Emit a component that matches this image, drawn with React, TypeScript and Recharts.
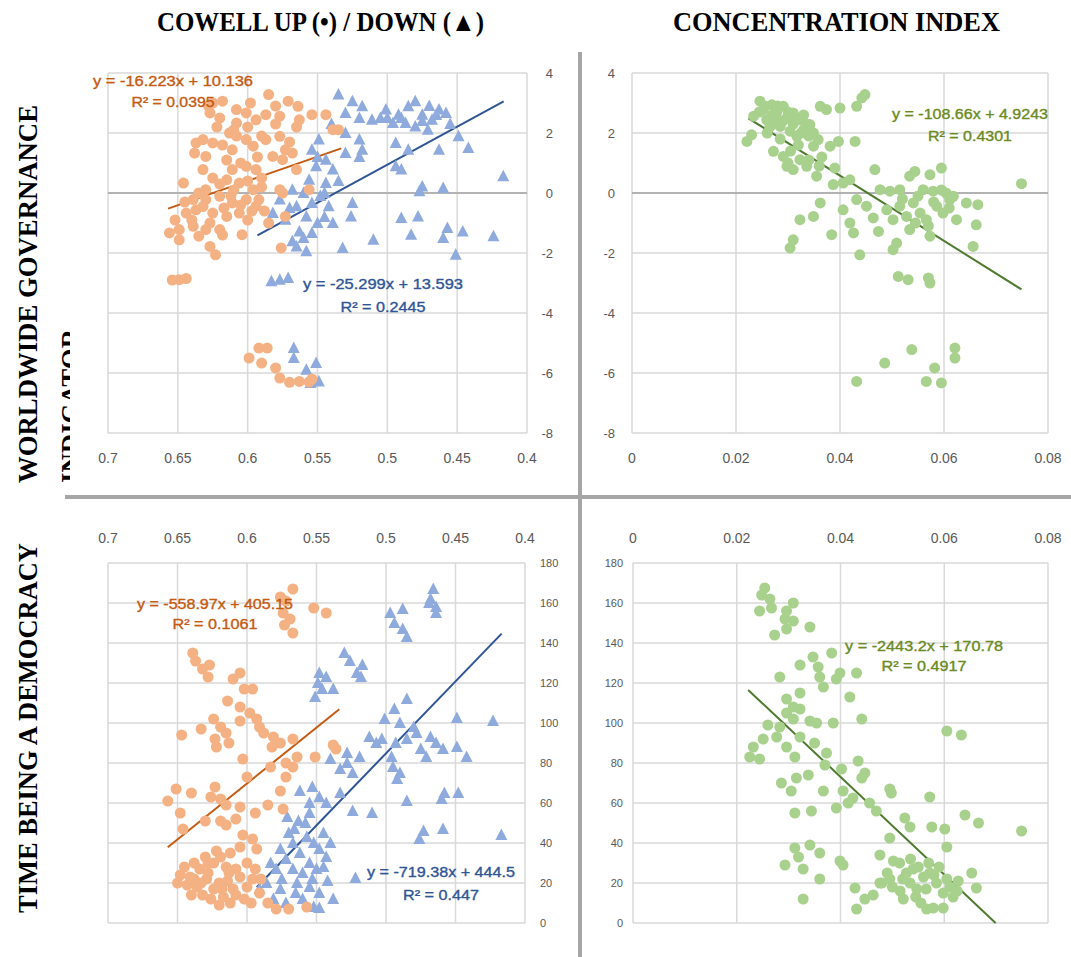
import React from 'react';
import { ScatterChart, Scatter, XAxis, YAxis, CartesianGrid, ReferenceLine } from 'recharts';

const W = 1071;
const H = 957;

// ---- tick values ----
const cowellTicks = [0.4, 0.45, 0.5, 0.55, 0.6, 0.65, 0.7];
const ciTicks = [0, 0.02, 0.04, 0.06, 0.08];
const wgiTicks = [-8, -6, -4, -2, 0, 2, 4];
const demTicks = [0, 20, 40, 60, 80, 100, 120, 140, 160, 180];

// ---- titles ----
const colTitles = ['COWELL UP (\u2022) / DOWN (\u25B2)', 'CONCENTRATION INDEX'];
const rowTitles = ['WORLDWIDE GOVERNANCE', 'INDICATOR', 'TIME BEING A DEMOCRACY'];

// ---- data: [x, y] ----
const cowellUpWgi = [
  [0.585, 3.28], [0.625, 3.0], [0.618, 3.06], [0.571, 3.06], [0.564, 2.89],
  [0.627, 2.67], [0.62, 2.5], [0.608, 2.78], [0.601, 2.67], [0.594, 2.44], [0.587, 2.61], [0.577, 2.56],
  [0.563, 2.44], [0.554, 2.61], [0.544, 2.61], [0.608, 2.33], [0.539, 2.11], [0.535, 2.11],
  [0.637, 1.67], [0.632, 1.78], [0.625, 1.67], [0.638, 1.33], [0.63, 1.22], [0.611, 1.44], [0.601, 1.78],
  [0.596, 1.56], [0.587, 1.78], [0.577, 1.89], [0.573, 1.44], [0.568, 1.33], [0.613, 2.0], [0.582, 1.22], [0.575, 1.11],
  [0.632, 0.78], [0.646, 0.33], [0.611, 0.78], [0.601, 0.89], [0.594, 0.78], [0.615, 0.44], [0.606, 0.33],
  [0.596, 0.11], [0.63, 0.11], [0.565, 0.78], [0.577, 0.11], [0.556, 0.11], [0.575, 0.0],
  [0.639, -0.22], [0.63, -0.22], [0.62, -0.11], [0.611, -0.33], [0.601, -0.22], [0.592, -0.22], [0.644, -0.67],
  [0.637, -0.56], [0.625, -0.67], [0.615, -0.78], [0.606, -0.67], [0.594, -0.44], [0.573, -0.78],
  [0.656, -1.33], [0.649, -1.22], [0.639, -1.11], [0.63, -1.22], [0.62, -1.22], [0.604, -1.39], [0.585, -1.0],
  [0.649, -1.56], [0.627, -1.78], [0.623, -2.06], [0.576, -1.83], [0.635, -1.44],
  [0.622, 2.2], [0.615, 1.1], [0.605, 1.0], [0.59, 0.5], [0.62, 0.3], [0.635, 0.0], [0.645, -0.3], [0.6, -0.9],
  [0.618, -1.4], [0.628, 2.9], [0.598, 3.0], [0.58, 2.9], [0.57, 1.7], [0.6, 0.4], [0.612, -0.1], [0.588, -0.6], [0.652, -0.9],
  [0.61, 2.1], [0.6, 2.2], [0.59, 1.9], [0.605, -0.4], [0.617, -0.5], [0.627, -1.0], [0.64, -0.9], [0.632, -0.45],
  [0.597, -0.6], [0.61, 0.1], [0.625, 0.5], [0.59, 0.2], [0.618, 1.6], [0.608, 1.9], [0.593, 1.2], [0.58, 2.3], [0.565, 2.2],
  [0.649, -2.89], [0.644, -2.85], [0.654, -2.9],
  [0.599, -5.5], [0.592, -5.17], [0.586, -5.17], [0.59, -5.67], [0.58, -5.83], [0.577, -6.17], [0.57, -6.31],
  [0.563, -6.28], [0.556, -6.3], [0.554, -6.2],
];

const cowellDownWgi = [
  [0.535, 3.28], [0.525, 3.06], [0.518, 2.89], [0.53, 2.67], [0.511, 2.44], [0.501, 2.78], [0.492, 2.61], [0.485, 2.89],
  [0.48, 3.06], [0.475, 2.61], [0.468, 2.44], [0.463, 2.78], [0.458, 2.67], [0.496, 2.33], [0.487, 2.33], [0.471, 2.11], [0.48, 2.22],
  [0.505, 2.5], [0.47, 2.9], [0.455, 2.3], [0.54, 2.3], [0.53, 2.0],
  [0.5, 2.5], [0.49, 2.5], [0.475, 2.4], [0.465, 2.6], [0.52, 2.5],
  [0.549, 1.78], [0.554, 1.44], [0.544, 1.11], [0.53, 1.33], [0.52, 1.78], [0.518, 1.44], [0.494, 1.67], [0.485, 1.44],
  [0.463, 1.44], [0.449, 1.89], [0.442, 1.5], [0.494, 0.89], [0.49, 0.78], [0.539, 0.78], [0.551, 0.89],
  [0.55, 1.2], [0.52, 1.2],
  [0.417, 0.56], [0.475, 0.22], [0.46, 0.17], [0.477, 0.06], [0.568, 0.11], [0.556, 0.44], [0.544, 0.33], [0.56, 0.0],
  [0.548, -0.1], [0.535, 0.4], [0.545, 0.0],
  [0.577, -0.22], [0.565, -0.44], [0.554, -0.33], [0.542, -0.44], [0.525, -0.33], [0.526, -0.78], [0.582, -0.67],
  [0.573, -0.89], [0.558, -0.78], [0.539, -1.0], [0.49, -0.83], [0.478, -0.78],
  [0.545, -0.8], [0.55, -1.0], [0.57, -0.5],
  [0.563, -1.28], [0.554, -1.33], [0.51, -1.56], [0.483, -1.39], [0.457, -1.17], [0.46, -1.5], [0.446, -1.28], [0.424, -1.44],
  [0.565, -1.78], [0.558, -1.94], [0.532, -1.83], [0.451, -2.06], [0.568, -1.61], [0.56, -1.5],
  [0.583, -2.94], [0.577, -2.89], [0.571, -2.83],
  [0.567, -5.17], [0.567, -5.5], [0.551, -5.67], [0.558, -5.89], [0.549, -6.28], [0.555, -6.33],
];

const ciWgi = [
  [0.0221, 1.72], [0.023, 1.94], [0.0234, 2.56], [0.0246, 3.06], [0.0253, 2.78], [0.0259, 2.44], [0.0269, 2.94],
  [0.0278, 2.67], [0.0291, 2.89], [0.0298, 2.5], [0.0285, 2.22], [0.031, 2.67], [0.0323, 2.44], [0.033, 2.11],
  [0.0342, 2.28], [0.0349, 2.0], [0.0317, 1.89], [0.0304, 2.06], [0.0272, 1.39], [0.0291, 1.22], [0.0298, 0.89],
  [0.031, 0.78], [0.0323, 1.11], [0.0336, 0.89], [0.0355, 0.56], [0.0349, 1.56], [0.0358, 1.78], [0.0362, 2.89],
  [0.0374, 2.78], [0.04, 2.83], [0.0381, 1.56], [0.0397, 1.72], [0.0429, 1.72], [0.0432, 2.89], [0.0442, 3.17],
  [0.0448, 3.28], [0.039, 0.83], [0.0387, 0.28], [0.0406, 0.33], [0.0419, 0.44], [0.0467, 0.78],
  [0.027, 2.6], [0.031, 2.3], [0.033, 2.6], [0.0245, 2.7], [0.029, 2.4], [0.0265, 2.2], [0.034, 1.9], [0.032, 1.6],
  [0.0365, 1.2], [0.03, 1.0],
  [0.0255, 2.9], [0.028, 2.9], [0.03, 2.7], [0.0275, 2.4], [0.0315, 2.5], [0.0335, 2.3], [0.0325, 2.0], [0.0285, 1.8],
  [0.026, 2.0], [0.0305, 1.4], [0.034, 1.1], [0.036, 0.9],
  [0.0477, 0.11], [0.0496, 0.06], [0.0515, 0.11], [0.0534, 0.56], [0.0544, 0.72], [0.0573, 0.61], [0.0595, 0.83],
  [0.056, 0.11], [0.0579, 0.06], [0.0604, 0.0], [0.0618, -0.11], [0.0643, -0.33], [0.0665, -0.39], [0.0749, 0.31],
  [0.052, -0.2], [0.055, -0.1], [0.058, -0.3], [0.061, -0.5], [0.057, -1.1], [0.0545, -1.0], [0.0595, 0.1],
  [0.0362, -0.33], [0.0349, -0.78], [0.0323, -0.89], [0.031, -1.56], [0.0304, -1.83], [0.0384, -1.39], [0.0406, -0.56],
  [0.0419, -1.0], [0.0426, -1.33], [0.0432, -0.22], [0.0451, -0.44], [0.0464, -0.83], [0.0474, -1.28], [0.049, -0.56],
  [0.0502, -0.89], [0.0515, -0.44], [0.0528, -0.78], [0.0541, -0.33], [0.0554, -0.67], [0.0534, -1.22], [0.0566, -0.89],
  [0.0586, -0.44], [0.0598, -0.67], [0.0611, -0.22], [0.0624, -0.89], [0.0573, -1.44], [0.0662, -1.06], [0.0656, -1.78],
  [0.0502, -1.89], [0.0509, -1.67], [0.0438, -2.06],
  [0.0512, -2.78], [0.0531, -2.89], [0.057, -2.83], [0.0573, -3.0],
  [0.0486, -5.67], [0.0538, -5.22], [0.0621, -5.17], [0.0621, -5.5], [0.0582, -5.83], [0.0566, -6.28], [0.0595, -6.33], [0.0432, -6.28],
];

const cowellUpDem = [
  [0.576, 163], [0.567, 167], [0.572, 161], [0.574, 155], [0.569, 152], [0.573, 149], [0.567, 145], [0.552, 157.5], [0.543, 155],
  [0.639, 135], [0.637, 131], [0.627, 129], [0.632, 127], [0.628, 123],
  [0.605, 125], [0.61, 122], [0.596, 117], [0.602, 117], [0.614, 111], [0.605, 108], [0.598, 105], [0.593, 102], [0.605, 101], [0.591, 98],
  [0.647, 94], [0.633, 97], [0.624, 102], [0.619, 98], [0.623, 92], [0.622, 88], [0.613, 90], [0.615, 95],
  [0.588, 95], [0.581, 93], [0.582, 88], [0.576, 90], [0.567, 92], [0.564, 83], [0.551, 83], [0.538, 89], [0.536, 87],
  [0.572, 80], [0.567, 78], [0.583, 78], [0.603, 82], [0.6, 73], [0.572, 73], [0.576, 66], [0.574, 57],
  [0.657, 61], [0.651, 67], [0.64, 65], [0.648, 55], [0.623, 68], [0.626, 63], [0.619, 62], [0.615, 59], [0.605, 58],
  [0.608, 52], [0.615, 49], [0.619, 51], [0.63, 51], [0.646, 47], [0.594, 55], [0.585, 59], [0.596, 42], [0.593, 37],
  [0.603, 44], [0.605, 38],
  [0.648, 24], [0.641, 23], [0.634, 27], [0.629, 22], [0.624, 30], [0.619, 33], [0.615, 28], [0.624, 17], [0.617, 13],
  [0.61, 17], [0.605, 23], [0.6, 18], [0.596, 22], [0.636, 18], [0.643, 19], [0.612, 10], [0.591, 15], [0.579, 7],
  [0.57, 7], [0.557, 8], [0.585, 10], [0.628, 25], [0.62, 20], [0.632, 14], [0.608, 27], [0.614, 21],
  [0.645, 28], [0.638, 30], [0.63, 33], [0.622, 36], [0.612, 35], [0.6, 30], [0.594, 27], [0.602, 12], [0.608, 14],
  [0.62, 9], [0.626, 12], [0.638, 22], [0.65, 20], [0.633, 20], [0.613, 25], [0.59, 22], [0.597, 10], [0.618, 17],
  [0.628, 30], [0.64, 14],
];

const cowellDownDem = [
  [0.466, 167], [0.468, 162], [0.464, 158], [0.469, 160], [0.464, 155], [0.497, 155], [0.488, 157], [0.494, 150],
  [0.488, 147], [0.485, 143], [0.53, 135], [0.526, 131], [0.517, 129], [0.521, 125], [0.518, 123], [0.548, 125],
  [0.543, 123], [0.549, 120], [0.546, 117], [0.538, 117], [0.551, 113],
  [0.485, 112], [0.494, 107], [0.501, 102], [0.49, 100], [0.48, 98], [0.478, 95], [0.449, 102.5], [0.423, 101],
  [0.512, 93], [0.507, 90], [0.503, 92], [0.493, 90], [0.485, 92], [0.475, 87], [0.468, 93], [0.464, 90], [0.459, 87],
  [0.471, 83], [0.449, 88], [0.442, 83], [0.496, 83], [0.495, 78],
  [0.54, 82], [0.528, 85], [0.519, 83], [0.533, 77], [0.524, 75], [0.528, 80], [0.492, 72], [0.49, 75],
  [0.562, 66], [0.553, 68], [0.548, 63], [0.543, 60], [0.533, 65], [0.555, 60], [0.524, 56], [0.51, 55], [0.485, 61],
  [0.458, 65], [0.448, 65], [0.46, 62], [0.571, 53], [0.563, 51], [0.555, 55], [0.566, 47], [0.473, 46], [0.476, 42],
  [0.459, 47], [0.417, 44],
  [0.576, 37], [0.567, 40], [0.557, 43], [0.552, 40], [0.548, 37], [0.543, 33], [0.562, 35], [0.572, 32], [0.555, 30],
  [0.579, 27], [0.567, 27], [0.55, 27], [0.542, 21], [0.522, 22.5], [0.586, 20], [0.576, 17], [0.564, 20], [0.555, 18],
  [0.548, 15], [0.581, 12], [0.572, 10], [0.56, 12], [0.552, 8], [0.548, 7.5], [0.591, 17],
  [0.57, 45], [0.56, 25], [0.565, 15], [0.545, 28], [0.538, 12], [0.575, 22], [0.583, 30], [0.553, 22], [0.545, 45],
  [0.558, 50], [0.54, 40],
];

const ciDem = [
  [0.0254, 167.5], [0.0248, 164], [0.0264, 162], [0.0267, 157.5], [0.0244, 156], [0.0309, 160], [0.0296, 156],
  [0.0293, 152], [0.0309, 151], [0.0296, 147], [0.0273, 144], [0.0341, 148], [0.0347, 133], [0.0357, 128],
  [0.036, 123], [0.0367, 118], [0.0383, 135], [0.0399, 125], [0.0392, 122], [0.0431, 125], [0.0418, 113],
  [0.0441, 102], [0.0322, 129], [0.0283, 123], [0.0322, 115], [0.0296, 112], [0.0309, 108], [0.0322, 107],
  [0.0296, 105], [0.026, 99], [0.0283, 98], [0.0309, 102], [0.0341, 101], [0.0354, 100], [0.0386, 100],
  [0.0232, 88], [0.0225, 83], [0.0244, 82], [0.0251, 92], [0.0277, 93], [0.0296, 88], [0.0312, 83], [0.0322, 93],
  [0.035, 90], [0.0373, 85], [0.037, 79], [0.0402, 77], [0.0434, 81], [0.0447, 75], [0.0441, 72.5],
  [0.0286, 70], [0.0315, 72.5], [0.0338, 74], [0.0305, 66], [0.0367, 66], [0.0405, 66], [0.0415, 60], [0.0392, 57.5],
  [0.0424, 62.5], [0.0456, 60], [0.0495, 67], [0.0498, 65], [0.0469, 56], [0.0312, 55], [0.0344, 56],
  [0.0495, 42.5], [0.0524, 52.5], [0.0534, 48], [0.0572, 63], [0.0576, 48], [0.0601, 47], [0.0605, 38], [0.064, 54],
  [0.0666, 50], [0.0749, 46], [0.0605, 96], [0.0633, 94],
  [0.0312, 37.5], [0.0319, 33], [0.0341, 39], [0.036, 35], [0.0293, 29], [0.0328, 27], [0.036, 22], [0.0328, 12],
  [0.0399, 31], [0.0405, 29], [0.0428, 17.5], [0.0431, 7], [0.0447, 12], [0.0463, 14], [0.0476, 34], [0.0476, 20],
  [0.0495, 22], [0.0514, 30], [0.0502, 31], [0.0521, 12], [0.0527, 25], [0.0534, 20], [0.0547, 17], [0.056, 23],
  [0.0566, 7], [0.0579, 7.5], [0.0585, 20], [0.0598, 15], [0.0598, 7.5], [0.0611, 18], [0.0627, 21], [0.0617, 13],
  [0.0653, 25], [0.0662, 17.5], [0.0572, 25], [0.054, 27],
  [0.049, 25], [0.05, 18], [0.052, 22], [0.055, 28], [0.058, 24], [0.0545, 13], [0.0565, 17], [0.059, 28],
  [0.0605, 22], [0.0625, 16], [0.0515, 16], [0.048, 20], [0.0535, 32], [0.057, 30], [0.0555, 10],
];

// ---- trendlines (from the printed equations) ----
const trendUpWgi = { slope: -16.223, intercept: 10.136, r2: '0.0395', from: 0.657, to: 0.533 };
const trendDownWgi = { slope: -25.299, intercept: 13.593, r2: '0.2445', from: 0.593, to: 0.4167 };
const trendCiWgi = { slope: -108.66, intercept: 4.9243, r2: '0.4301', from: 0.0224, to: 0.0749 };
const trendUpDem = { slope: -558.97, intercept: 405.15, r2: '0.1061', from: 0.657, to: 0.5336 };
const trendDownDem = { slope: -719.38, intercept: 444.5, r2: '0.447', from: 0.593, to: 0.4168 };
const trendCiDem = { slope: -2443.2, intercept: 170.78, r2: '0.4917', from: 0.0222, to: 0.0699 };

// ---- colours ----
const ORANGE = '#f4b183';
const BLUE = '#8faadc';
const GREEN = '#a9d18e';
const ORANGE_LINE = '#c55a11';
const BLUE_LINE = '#2f5597';
const GREEN_LINE = '#4e7a2e';
const ORANGE_TXT = '#c55a11';
const BLUE_TXT = '#2f5597';
const GREEN_TXT = '#6b8a22';
const TICK = '#595959';
const FONT = '"Liberation Sans", Arial, sans-serif';
const SERIF = '"Liberation Serif", "Times New Roman", serif';
const AX = 30; // axis band size

const toPts = (arr: number[][]) => arr.map(([x, y]) => ({ x, y }));
const seg = (t: any) => [
  { x: t.from, y: t.slope * t.from + t.intercept },
  { x: t.to, y: t.slope * t.to + t.intercept },
];
const eqText = (t: any) => `y = ${t.slope}x + ${t.intercept}`;
const fmt = (v: number) => String(Number(Number(v).toFixed(3)));

const circleShape = (color: string) => (p: any) => <circle cx={p.cx} cy={p.cy} r={5.5} fill={color} />;
const triShape = (p: any) => (
  <polygon
    points={`${p.cx},${p.cy - 6.5} ${p.cx + 6},${p.cy + 5} ${p.cx - 6},${p.cy + 5}`}
    fill={BLUE}
  />
);

type PanelProps = {
  plot: { left: number; right: number; top: number; bottom: number };
  xDomain: number[];
  xTicks: number[];
  xSide: 'top' | 'bottom';
  reversed?: boolean;
  yDomain: number[];
  yTicks: number[];
  ySide: 'left' | 'right';
  xLabelY: number;
  xFont: number;
  yLabelX: number;
  yAnchor: 'start' | 'end';
  yFont: number;
  series: { data: number[][]; shape: any }[];
  trends: { t: any; color: string }[];
  zeroLine?: boolean;
};

function Panel(props: PanelProps) {
  const { plot } = props;
  const margin = {
    top: plot.top - (props.xSide === 'top' ? AX : 0),
    bottom: H - plot.bottom - (props.xSide === 'bottom' ? AX : 0),
    left: plot.left - (props.ySide === 'left' ? AX : 0),
    right: W - plot.right - (props.ySide === 'right' ? AX : 0),
  };
  const xTick = (p: any) => (
    <text x={p.x} y={props.xLabelY} textAnchor="middle" fontSize={props.xFont} fill={TICK} fontFamily={FONT}>
      {fmt(p.payload.value)}
    </text>
  );
  const yTick = (p: any) => (
    <text x={props.yLabelX} y={p.y + props.yFont * 0.36} textAnchor={props.yAnchor} fontSize={props.yFont} fill={TICK} fontFamily={FONT}>
      {fmt(p.payload.value)}
    </text>
  );
  return (
    <div style={{ position: 'absolute', left: 0, top: 0 }}>
      <ScatterChart width={W} height={H} margin={margin}>
        <CartesianGrid stroke="#d9d9d9" strokeWidth={1.5} />
        <XAxis
          type="number"
          dataKey="x"
          orientation={props.xSide}
          domain={props.xDomain}
          ticks={props.xTicks}
          reversed={props.reversed}
          interval={0}
          height={AX}
          axisLine={false}
          tickLine={false}
          tick={xTick}
          allowDataOverflow
        />
        <YAxis
          type="number"
          dataKey="y"
          orientation={props.ySide}
          domain={props.yDomain}
          ticks={props.yTicks}
          interval={0}
          width={AX}
          axisLine={false}
          tickLine={false}
          tick={yTick}
          allowDataOverflow
        />
        {props.zeroLine && <ReferenceLine y={0} stroke="#b3b3b3" strokeWidth={2} />}
        {props.series.map((s, i) => (
          <Scatter key={i} data={toPts(s.data)} shape={s.shape} isAnimationActive={false} />
        ))}
        {props.trends.map((tr, i) => (
          <ReferenceLine key={'t' + i} segment={seg(tr.t)} stroke={tr.color} strokeWidth={2} ifOverflow="visible" />
        ))}
      </ScatterChart>
    </div>
  );
}

function Eq({ t, cx, y1, y2, w1, w2, color }: any) {
  return (
    <g fontFamily={FONT} fontSize={14} fill={color} stroke={color} strokeWidth={0.35}>
      <text x={cx} y={y1} textAnchor="middle" textLength={w1} lengthAdjust="spacingAndGlyphs">{eqText(t)}</text>
      <text x={cx} y={y2} textAnchor="middle" textLength={w2} lengthAdjust="spacingAndGlyphs">{`R\u00B2 = ${t.r2}`}</text>
    </g>
  );
}

export default function App() {
  return (
    <div style={{ position: 'absolute', left: 0, top: 0, width: W, height: H, background: '#fff', overflow: 'hidden' }}>
      <Panel
        plot={{ left: 108, right: 527, top: 73, bottom: 433 }}
        xDomain={[0.4, 0.7]}
        xTicks={cowellTicks}
        xSide="bottom"
        reversed
        yDomain={[-8, 4]}
        yTicks={wgiTicks}
        ySide="right"
        xLabelY={463}
        xFont={14}
        yLabelX={553}
        yAnchor="end"
        yFont={13}
        zeroLine
        series={[
          { data: cowellDownWgi, shape: triShape },
          { data: cowellUpWgi, shape: circleShape(ORANGE) },
        ]}
        trends={[
          { t: trendUpWgi, color: ORANGE_LINE },
          { t: trendDownWgi, color: BLUE_LINE },
        ]}
      />
      <Panel
        plot={{ left: 632, right: 1048, top: 73, bottom: 433 }}
        xDomain={[0, 0.08]}
        xTicks={ciTicks}
        xSide="bottom"
        yDomain={[-8, 4]}
        yTicks={wgiTicks}
        ySide="left"
        xLabelY={463}
        xFont={14}
        yLabelX={615}
        yAnchor="end"
        yFont={13}
        zeroLine
        series={[{ data: ciWgi, shape: circleShape(GREEN) }]}
        trends={[{ t: trendCiWgi, color: GREEN_LINE }]}
      />
      <Panel
        plot={{ left: 108, right: 525, top: 563, bottom: 923 }}
        xDomain={[0.4, 0.7]}
        xTicks={cowellTicks}
        xSide="top"
        reversed
        yDomain={[0, 180]}
        yTicks={demTicks}
        ySide="right"
        xLabelY={543}
        xFont={14}
        yLabelX={540}
        yAnchor="start"
        yFont={11}
        series={[
          { data: cowellDownDem, shape: triShape },
          { data: cowellUpDem, shape: circleShape(ORANGE) },
        ]}
        trends={[
          { t: trendUpDem, color: ORANGE_LINE },
          { t: trendDownDem, color: BLUE_LINE },
        ]}
      />
      <Panel
        plot={{ left: 633, right: 1048, top: 563, bottom: 923 }}
        xDomain={[0, 0.08]}
        xTicks={ciTicks}
        xSide="top"
        yDomain={[0, 180]}
        yTicks={demTicks}
        ySide="left"
        xLabelY={543}
        xFont={14}
        yLabelX={623}
        yAnchor="end"
        yFont={11}
        series={[{ data: ciDem, shape: circleShape(GREEN) }]}
        trends={[{ t: trendCiDem, color: GREEN_LINE }]}
      />
      <svg width={W} height={H} style={{ position: 'absolute', left: 0, top: 0, pointerEvents: 'none' }}>
        <defs>
          <clipPath id="indClip">
            <rect x={0} y={0} width={70} height={H} />
          </clipPath>
        </defs>
        <rect x={578} y={52} width={4} height={H - 52} fill="#a6a6a6" />
        <rect x={65} y={495} width={W - 65} height={4} fill="#a6a6a6" />
        <g fontFamily={SERIF} fontWeight="bold" fontSize={27} fill="#000">
          <text x={320.5} y={31} textAnchor="middle" textLength={327} lengthAdjust="spacingAndGlyphs">{colTitles[0]}</text>
          <text x={836.5} y={31} textAnchor="middle" textLength={327} lengthAdjust="spacingAndGlyphs">{colTitles[1]}</text>
          <text transform="translate(37,483) rotate(-90)" textLength={378} lengthAdjust="spacingAndGlyphs">{rowTitles[0]}</text>
          <g clipPath="url(#indClip)">
            <text transform="translate(80,483) rotate(-90)" textLength={154} lengthAdjust="spacingAndGlyphs">{rowTitles[1]}</text>
          </g>
          <text transform="translate(37,913) rotate(-90)" textLength={370} lengthAdjust="spacingAndGlyphs">{rowTitles[2]}</text>
        </g>
        <Eq t={trendUpWgi} cx={173} y1={86} y2={107} w1={160} w2={83} color={ORANGE_TXT} />
        <Eq t={trendDownWgi} cx={383} y1={289} y2={312} w1={160} w2={85} color={BLUE_TXT} />
        <Eq t={trendCiWgi} cx={970} y1={119} y2={141} w1={156} w2={84} color={GREEN_TXT} />
        <Eq t={trendUpDem} cx={215} y1={609} y2={629} w1={156} w2={85} color={ORANGE_TXT} />
        <Eq t={trendDownDem} cx={441} y1={877} y2={900} w1={148} w2={76} color={BLUE_TXT} />
        <Eq t={trendCiDem} cx={924} y1={651} y2={671} w1={158} w2={85} color={GREEN_TXT} />
      </svg>
    </div>
  );
}
